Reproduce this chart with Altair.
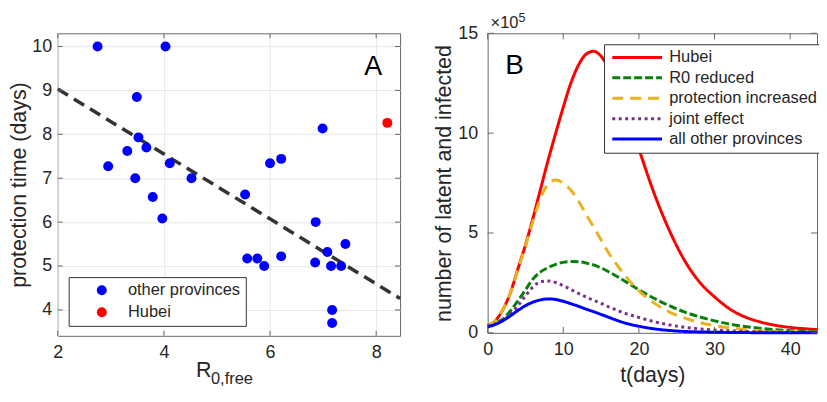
import altair as alt
import pandas as pd

FONT = "Liberation Sans"

# ---------------- Panel A data ----------------
r0_free = [2.75, 4.03, 3.49, 3.52, 3.31, 3.67, 2.95, 3.46, 4.11, 4.52, 3.79, 5.53, 6.00, 6.21, 6.99,
           3.97, 5.57, 5.76, 5.89, 6.21, 6.86, 6.85, 7.08, 7.42, 7.15, 7.34, 7.17, 7.17, 8.21]
prot_time = [10.0, 10.0, 8.85, 7.93, 7.62, 7.70, 7.27, 7.00, 7.34, 7.00, 6.57, 6.63, 7.34, 7.44, 8.13,
             6.08, 5.17, 5.17, 5.00, 5.22, 6.00, 5.08, 5.32, 5.50, 5.00, 5.00, 4.00, 3.70, 8.26]
region = ["other provinces"] * 28 + ["Hubei"]
fit_x = [2.0, 8.45]
fit_y = [9.03, 4.26]
a_xticks = [2, 4, 6, 8]
a_yticks = [4, 5, 6, 7, 8, 9, 10]

# ---------------- Panel B data ----------------
t_days = [0, 1, 2, 3, 4, 5, 6, 7, 8, 9, 10, 11, 12, 13, 14, 15, 16, 17, 18, 19, 20,
          22, 24, 26, 28, 30, 32, 34, 36, 38, 40, 42, 43.55]
hubei = [0.35, 0.6, 1.15, 2.0, 3.2, 4.4, 5.75, 7.2, 8.65, 10.0, 11.3, 12.5, 13.4, 13.95, 14.1, 13.85,
         13.25, 12.4, 11.4, 10.3, 9.2, 7.0, 5.15, 3.65, 2.55, 1.8, 1.2, 0.8, 0.55, 0.38, 0.27, 0.2, 0.16]
r0_reduced = [0.35, 0.48, 0.68, 1.1, 1.6, 2.15, 2.7, 3.05, 3.27, 3.43, 3.53, 3.57, 3.56, 3.5, 3.4, 3.25,
              3.06, 2.85, 2.62, 2.39, 2.16, 1.73, 1.36, 1.05, 0.8, 0.6, 0.44, 0.32, 0.23, 0.16, 0.11, 0.08, 0.06]
protection = [0.35, 0.6, 1.15, 2.0, 3.15, 4.35, 5.6, 6.75, 7.45, 7.65, 7.5, 7.15, 6.6, 5.95, 5.3, 4.65,
              4.0, 3.45, 2.95, 2.5, 2.1, 1.5, 1.05, 0.75, 0.52, 0.36, 0.25, 0.17, 0.11, 0.07, 0.05, 0.03, 0.025]
joint = [0.35, 0.45, 0.62, 0.92, 1.35, 1.85, 2.3, 2.56, 2.6, 2.52, 2.36, 2.17, 1.98, 1.8, 1.63, 1.48,
         1.3, 1.15, 1.0, 0.88, 0.77, 0.56, 0.4, 0.28, 0.2, 0.14, 0.1, 0.07, 0.05, 0.03, 0.02, 0.015, 0.012]
others = [0.3, 0.42, 0.6, 0.85, 1.12, 1.36, 1.54, 1.65, 1.7, 1.67, 1.58, 1.46, 1.33, 1.19, 1.06, 0.92,
          0.78, 0.64, 0.51, 0.41, 0.33, 0.2, 0.12, 0.07, 0.045, 0.03, 0.02, 0.012, 0.008, 0.005, 0.003, 0.002, 0.001]
series_names = ["Hubei", "R0 reduced", "protection increased", "joint effect", "all other provinces"]
series_colors = ["#ff0000", "#0a800a", "#edb120", "#7e2f8e", "#0000ff"]
series_dashes = [[1, 0], [8, 3], [11, 7], [3, 3.5], [1, 0]]
b_xticks = [0, 10, 20, 30, 40]
b_yticks = [0, 5, 10, 15]

AW, AH = 344, 304
BW, BH = 331, 301
TICK = "#666666"

# ---------------- Panel A ----------------
df_a = pd.DataFrame({"r0": r0_free, "pt": prot_time, "region": region})
df_fit = pd.DataFrame({"r0": fit_x, "pt": fit_y})

xa = alt.X("r0:Q", scale=alt.Scale(domain=[2, 8.45], nice=False, zero=False),
           axis=alt.Axis(values=a_xticks, title=None, grid=True, ticks=False, domain=False,
                         labelFontSize=18, labelPadding=8, gridColor="#e6e6e6"))
ya = alt.Y("pt:Q", scale=alt.Scale(domain=[3.41, 10.3], nice=False, zero=False),
           axis=alt.Axis(values=a_yticks, title="protection time (days)", grid=True, ticks=False,
                         domain=False, labelFontSize=18, labelPadding=6, titleFontSize=21.5,
                         titlePadding=1, gridColor="#e6e6e6"))

fit = alt.Chart(df_fit).mark_line(color="#333333", strokeWidth=3.5, strokeDash=[12, 7]).encode(x=xa, y=ya)
pts = alt.Chart(df_a).mark_circle(size=100, opacity=1).encode(
    x="r0:Q", y="pt:Q",
    color=alt.Color("region:N", scale=alt.Scale(domain=["other provinces", "Hubei"], range=["#0000ff", "#ff0000"]),
                    legend=alt.Legend(title=None, orient="none", legendX=11, legendY=245,
                                      symbolType="circle", symbolSize=100, symbolStrokeWidth=0,
                                      symbolOffset=20, labelOffset=18, labelFontSize=16.5, labelFont=FONT,
                                      labelColor="#262626", padding=5, rowPadding=5,
                                      strokeColor="#333333", fillColor="white")))

a_xt = pd.DataFrame({"v": a_xticks})
a_yt = pd.DataFrame({"v": a_yticks})
a_ticks = [
    alt.Chart(a_xt).mark_rule(color=TICK).encode(x="v:Q", y=alt.value(AH), y2=alt.value(AH - 5)),
    alt.Chart(a_xt).mark_rule(color=TICK).encode(x="v:Q", y=alt.value(0), y2=alt.value(5)),
    alt.Chart(a_yt).mark_rule(color=TICK).encode(y="v:Q", x=alt.value(0), x2=alt.value(5)),
    alt.Chart(a_yt).mark_rule(color=TICK).encode(y="v:Q", x=alt.value(AW - 5), x2=alt.value(AW)),
]
lab_a = alt.Chart(pd.DataFrame({"s": ["A"]})).mark_text(fontSize=27, font=FONT, color="black",
                                                        align="center", baseline="alphabetic").encode(
    text="s:N", x=alt.value(317), y=alt.value(42))
xt_r = alt.Chart(pd.DataFrame({"s": ["R"]})).mark_text(fontSize=21.5, font=FONT, color="#262626",
                                                       align="left", baseline="alphabetic").encode(
    text="s:N", x=alt.value(139), y=alt.value(345))
xt_sub = alt.Chart(pd.DataFrame({"s": ["0,free"]})).mark_text(fontSize=16.5, font=FONT, color="#262626",
                                                              align="left", baseline="alphabetic").encode(
    text="s:N", x=alt.value(154), y=alt.value(352))

panel_a = alt.layer(fit, pts, *a_ticks, lab_a, xt_r, xt_sub).properties(width=AW, height=AH)

# ---------------- Panel B ----------------
cols = [hubei, r0_reduced, protection, joint, others]
rows = []
for name, vals in zip(series_names, cols):
    for t, v in zip(t_days, vals):
        rows.append({"t": t, "n": v, "series": name})
df_b = pd.DataFrame(rows)

leg_b = alt.Legend(title=None, orient="none", legendX=117, legendY=11, symbolType="M-5,0H5",
                   symbolSize=100, symbolStrokeWidth=3, symbolOffset=20, labelOffset=24,
                   labelFontSize=16.5, labelFont=FONT, labelColor="#262626", padding=5, rowPadding=3.5,
                   strokeColor="#333333", fillColor="white")
xb = alt.X("t:Q", scale=alt.Scale(domain=[0, 43.55], nice=False, zero=False),
           axis=alt.Axis(values=b_xticks, title="t(days)", grid=False, ticks=False, domain=False,
                         labelFontSize=18, labelPadding=8, titleFontSize=21.5, titlePadding=6))
yb = alt.Y("n:Q", scale=alt.Scale(domain=[0, 15], nice=False, zero=False),
           axis=alt.Axis(values=b_yticks, title="number of latent and infected", grid=False, ticks=False,
                         domain=False, labelFontSize=18, labelPadding=10, titleFontSize=21.5, titlePadding=2))
lines = alt.Chart(df_b).mark_line(strokeWidth=3, interpolate="monotone").encode(
    x=xb, y=yb,
    color=alt.Color("series:N", scale=alt.Scale(domain=series_names, range=series_colors), legend=leg_b),
    strokeDash=alt.StrokeDash("series:N", scale=alt.Scale(domain=series_names, range=series_dashes), legend=leg_b),
)
b_xt = pd.DataFrame({"v": b_xticks})
b_yt = pd.DataFrame({"v": b_yticks})
b_ticks = [
    alt.Chart(b_xt).mark_rule(color=TICK).encode(x="v:Q", y=alt.value(BH), y2=alt.value(BH - 6)),
    alt.Chart(b_xt).mark_rule(color=TICK).encode(x="v:Q", y=alt.value(0), y2=alt.value(6)),
    alt.Chart(b_yt).mark_rule(color=TICK).encode(y="v:Q", x=alt.value(0), x2=alt.value(6)),
    alt.Chart(b_yt).mark_rule(color=TICK).encode(y="v:Q", x=alt.value(BW - 6), x2=alt.value(BW)),
]
lab_b = alt.Chart(pd.DataFrame({"s": ["B"]})).mark_text(fontSize=28, font=FONT, color="black",
                                                        align="center", baseline="alphabetic").encode(
    text="s:N", x=alt.value(27), y=alt.value(41))
exp_base = alt.Chart(pd.DataFrame({"s": ["×10"]})).mark_text(fontSize=16.5, font=FONT, color="#262626",
                                                             align="left", baseline="alphabetic").encode(
    text="s:N", x=alt.value(3), y=alt.value(-5))
exp_sup = alt.Chart(pd.DataFrame({"s": ["5"]})).mark_text(fontSize=12.5, font=FONT, color="#262626",
                                                          align="left", baseline="alphabetic").encode(
    text="s:N", x=alt.value(31), y=alt.value(-11))

panel_b = alt.layer(lines, *b_ticks, lab_b, exp_base, exp_sup).properties(width=BW, height=BH)

chart = alt.hconcat(panel_a, panel_b, spacing=88, bounds="flush").resolve_scale(
    color="independent", strokeDash="independent"
).configure(
    font=FONT, padding={"left": 0, "top": 2.5, "right": -5, "bottom": 0}
).configure_view(
    stroke="#666666", strokeWidth=1
).configure_axis(
    labelColor="#262626", titleColor="#262626", titleFontWeight="normal", labelFont=FONT, titleFont=FONT,
    labelFlush=False
)

chart.save("out.html", embed_options={"renderer": "svg", "actions": False})
